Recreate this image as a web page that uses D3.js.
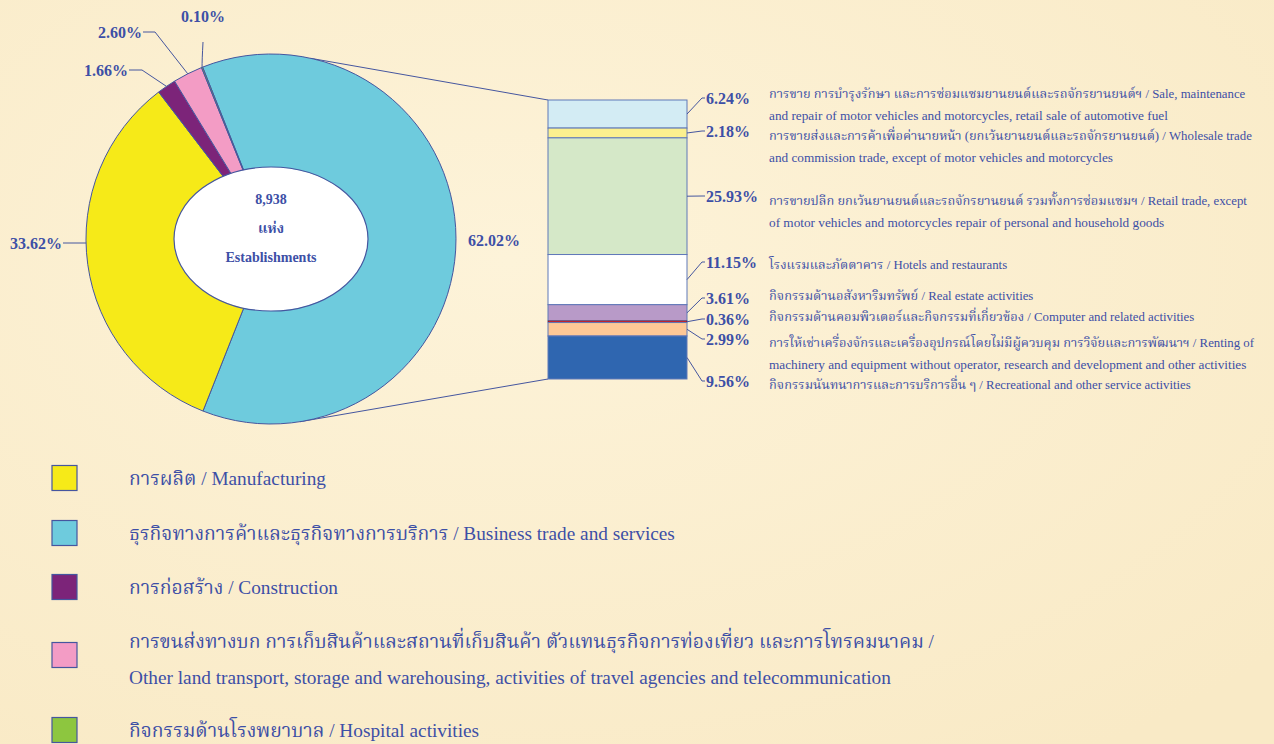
<!DOCTYPE html>
<html>
<head>
<meta charset="utf-8">
<script src="https://cdn.jsdelivr.net/npm/d3@7"></script>
<style>
    body { margin: 0; background: #fcf1d3; }
    svg { display: block; }
    text { font-family: "Liberation Serif", "Times New Roman", "Noto Serif Thai", "Noto Sans Thai", serif; }
</style>
</head>
<body>
<div class="container"></div>
<script>
// main groups (pie), in clockwise order from the top
const pieKeys = ['business', 'manufacturing', 'construction', 'transport', 'hospital'];
const pieValues = [62.02, 33.62, 1.66, 2.60, 0.10];
const pieLabels = ['62.02%', '33.62%', '1.66%', '2.60%', '0.10%'];
const pieColors = ['#6ecbdd', '#f6ea18', '#7c2479', '#f39cc5', '#8dc63f'];

// legend, top to bottom
const legendKeys = ['manufacturing', 'business', 'construction', 'transport', 'hospital'];
const legendText = [
    ['การผลิต / Manufacturing'],
    ['ธุรกิจทางการค้าและธุรกิจทางการบริการ / Business trade and services'],
    ['การก่อสร้าง / Construction'],
    ['การขนส่งทางบก การเก็บสินค้าและสถานที่เก็บสินค้า ตัวแทนธุรกิจการท่องเที่ยว และการโทรคมนาคม /',
     'Other land transport, storage and warehousing, activities of travel agencies and telecommunication'],
    ['กิจกรรมด้านโรงพยาบาล / Hospital activities']
];

// breakdown of business trade and services (bar)
const subValues = [6.24, 2.18, 25.93, 11.15, 3.61, 0.36, 2.99, 9.56];
const subLabels = ['6.24%', '2.18%', '25.93%', '11.15%', '3.61%', '0.36%', '2.99%', '9.56%'];
const subColors = ['#d3ecf4', '#fbf08f', '#d5e8c8', '#ffffff', '#b89ac8', '#e3262c', '#fdc896', '#2f66b0'];
const subText = [
    'การขาย การบำรุงรักษา และการซ่อมแซมยานยนต์และรถจักรยานยนต์ฯ / Sale, maintenance',
    'and repair of motor vehicles and motorcycles, retail sale of  automotive fuel',
    'การขายส่งและการค้าเพื่อค่านายหน้า (ยกเว้นยานยนต์และรถจักรยานยนต์) / Wholesale trade',
    'and commission trade, except of motor vehicles and motorcycles',
    'การขายปลีก ยกเว้นยานยนต์และรถจักรยานยนต์ รวมทั้งการซ่อมแซมฯ / Retail trade, except',
    'of motor vehicles and motorcycles repair of personal and household goods',
    'โรงแรมและภัตตาคาร / Hotels and restaurants',
    'กิจกรรมด้านอสังหาริมทรัพย์ / Real estate activities',
    'กิจกรรมด้านคอมพิวเตอร์และกิจกรรมที่เกี่ยวข้อง / Computer and related activities',
    'การให้เช่าเครื่องจักรและเครื่องอุปกรณ์โดยไม่มีผู้ควบคุม การวิจัยและการพัฒนาฯ / Renting of',
    'machinery and equipment without operator, research and development and other activities',
    'กิจกรรมนันทนาการและการบริการอื่น ๆ / Recreational and other service activities'
];

const centerText = ['8,938', 'แห่ง', 'Establishments'];

const width = 1274;
const height = 744;
const ink = '#3d4fa6';
const edge = '#45569f';

const cx = 271, cy = 239, r = 185;
const deg = Math.PI / 180;
const startA = -21.7 * deg;
const hasThai = s => /[\u0E00-\u0E7F]/.test(s);

const svg = d3.select('.container')
    .append('svg')
    .attr('width', width)
    .attr('height', height);

// parchment background
const defs = svg.append('defs');
const grad = defs.append('radialGradient').attr('id', 'bg').attr('cx', '40%').attr('cy', '35%').attr('r', '80%');
grad.append('stop').attr('offset', '0%').attr('stop-color', '#fdf3d9');
grad.append('stop').attr('offset', '100%').attr('stop-color', '#f9eac6');
svg.append('rect').attr('width', width).attr('height', height).attr('fill', 'url(#bg)');

// ---- pie
const pie = d3.pie().sort(null).startAngle(startA).endAngle(startA + 2 * Math.PI);
const arcs = pie(pieValues);
const arc = d3.arc().innerRadius(0).outerRadius(r);
const onCircle = a => [cx + r * Math.sin(a), cy - r * Math.cos(a)];

// connector lines from pie to bar
const barX = 548, barW = 139, barTop = 100, barBottom = 379;
const y = d3.scaleLinear().domain([0, d3.sum(subValues)]).range([barTop, barBottom]);

const pTop = onCircle(12.4 * deg);
const pBot = onCircle(171 * deg);
svg.append('path')
    .attr('d', `M${pTop[0]},${pTop[1]}L${barX},${y(0)}M${pBot[0]},${pBot[1]}L${barX},${y(d3.sum(subValues))}`)
    .attr('stroke', edge).attr('stroke-width', 1).attr('fill', 'none');

const pg = svg.append('g').attr('transform', `translate(${cx},${cy})`);
pg.selectAll('path')
    .data(arcs)
    .enter()
    .append('path')
    .attr('d', arc)
    .attr('fill', (d, i) => pieColors[i])
    .attr('stroke', edge)
    .attr('stroke-width', 1);

pg.append('ellipse')
    .attr('rx', 97).attr('ry', 72)
    .attr('fill', '#ffffff')
    .attr('stroke', edge).attr('stroke-width', 1.2);

pg.selectAll('.ctext')
    .data(centerText)
    .enter()
    .append('text')
    .attr('class', 'ctext')
    .attr('text-anchor', 'middle')
    .attr('y', (d, i) => -40 + i * 29 + 5)
    .attr('font-size', 14)
    .attr('font-weight', 'bold')
    .attr('fill', ink)
    .text(d => d);

// pie labels: text position, anchor and leader style
const mid = d => (d.startAngle + d.endAngle) / 2;
const pieLabelPos = [
    { x: 468, y: 240, anchor: 'start', line: null },
    { x: 62, y: 243, anchor: 'end', line: 'yellow' },
    { x: 128, y: 70, anchor: 'end', line: 'bend', kx: 142 },
    { x: 142, y: 32, anchor: 'end', line: 'bend', kx: 155 },
    { x: 203, y: 16, anchor: 'middle', line: 'vertical' }
];
arcs.forEach((d, i) => {
    const p = pieLabelPos[i];
    svg.append('text')
        .attr('x', p.x).attr('y', p.y)
        .attr('dy', '0.35em')
        .attr('text-anchor', p.anchor)
        .attr('font-size', 16).attr('font-weight', 'bold')
        .attr('fill', ink)
        .text(pieLabels[i]);
    let path = null;
    if (p.line === 'yellow') {
        const dy = p.y - cy;
        const xe = cx - Math.sqrt(r * r - dy * dy);
        path = `M${p.x + 1},${p.y}L${xe},${p.y}`;
    } else if (p.line === 'bend') {
        const e = onCircle(mid(d));
        path = `M${p.x + 1},${p.y}L${p.kx},${p.y}L${e[0]},${e[1]}`;
    } else if (p.line === 'vertical') {
        const e = onCircle(mid(d));
        path = `M${p.x},${p.y + 26}Q${p.x - 1},${p.y + 45} ${e[0]},${e[1]}`;
    }
    if (path) {
        svg.append('path').attr('d', path)
            .attr('stroke', edge).attr('stroke-width', 1).attr('fill', 'none');
    }
});

// ---- stacked bar
const cum = d3.cumsum(subValues);
const segs = subValues.map((v, i) => ({ v, y0: cum[i] - v, y1: cum[i], i }));

svg.selectAll('.seg')
    .data(segs)
    .enter()
    .append('rect')
    .attr('class', 'seg')
    .attr('x', barX)
    .attr('width', barW)
    .attr('y', d => y(d.y0))
    .attr('height', d => y(d.y1) - y(d.y0))
    .attr('fill', d => subColors[d.i])
    .attr('stroke', d => d.i === 5 ? '#3a1b3a' : '#5f78b8')
    .attr('stroke-width', d => d.i === 5 ? 0.6 : 1);

const subLabelY = [98, 131, 196, 262, 298, 319, 339, 381];
segs.forEach((d, i) => {
    const my = y((d.y0 + d.y1) / 2);
    const ly = subLabelY[i];
    svg.append('path')
        .attr('d', `M${barX + barW},${my}L${barX + barW + 15},${ly}L${barX + barW + 18},${ly}`)
        .attr('stroke', edge).attr('stroke-width', 1).attr('fill', 'none');
    svg.append('text')
        .attr('x', 706).attr('y', ly)
        .attr('dy', '0.35em')
        .attr('font-size', 16).attr('font-weight', 'bold')
        .attr('fill', ink)
        .text(subLabels[i]);
});

const subTextY = [94, 115, 136, 157, 201, 222, 265, 296, 317, 343, 364, 385];
svg.selectAll('.stext')
    .data(subText)
    .enter()
    .append('text')
    .attr('class', 'stext')
    .attr('x', 769)
    .attr('y', (d, i) => subTextY[i])
    .attr('dy', '0.35em')
    .attr('font-size', d => hasThai(d) ? 12.8 : 13.25)
    .attr('fill', ink)
    .text(d => d);

// ---- legend
const legendY = [478, 533, 587, 655, 730];
legendKeys.forEach((k, i) => {
    const col = pieColors[pieKeys.indexOf(k)];
    svg.append('rect')
        .attr('x', 52).attr('y', legendY[i] - 12.5)
        .attr('width', 25).attr('height', 25)
        .attr('fill', col)
        .attr('stroke', edge).attr('stroke-width', 1.2);
    const lines = legendText[i];
    lines.forEach((t, j) => {
        svg.append('text')
            .attr('x', 129)
            .attr('y', legendY[i] + (lines.length === 2 ? (j === 0 ? -14 : 22) : 0))
            .attr('dy', '0.35em')
            .attr('font-size', 19.3)
            .attr('fill', ink)
            .text(t);
    });
});
</script>
</body>
</html>
